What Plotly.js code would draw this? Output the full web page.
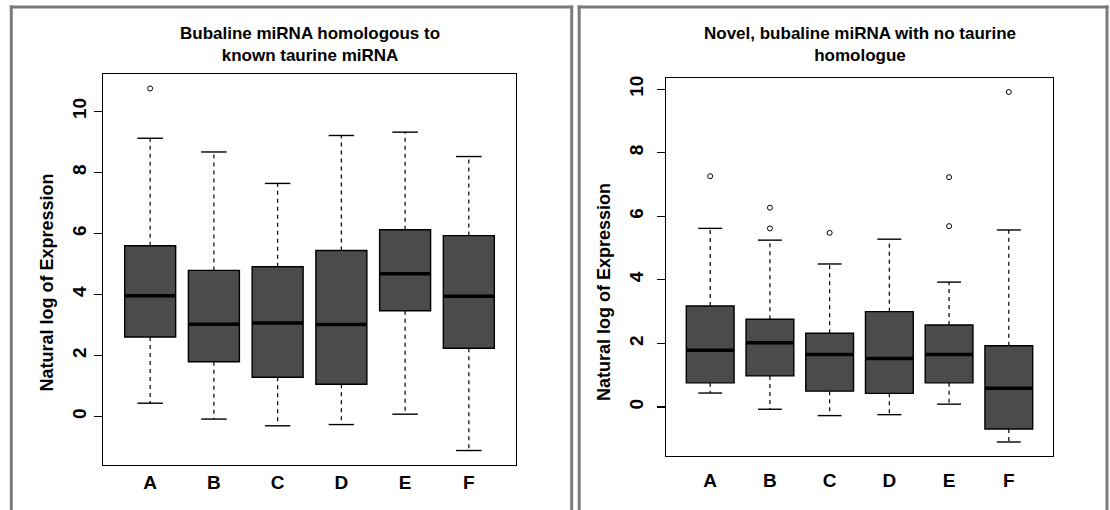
<!DOCTYPE html>
<html>
<head>
<meta charset="utf-8">
<script src="https://cdn.plot.ly/plotly-3.0.1.min.js"></script>
<style>
  html, body { margin: 0; padding: 0; background: #ffffff; }
  #chart { width: 1110px; height: 510px; }
</style>
</head>
<body>
<div id="chart"></div>
<script>
// ---------- DATA ----------
const categories = ['A', 'B', 'C', 'D', 'E', 'F'];

// Panel 1: Bubaline miRNA homologous to known taurine miRNA
const leftTitle = 'Bubaline miRNA homologous to<br>known taurine miRNA';
const leftUpper  = [9.12, 8.67, 7.64, 9.21, 9.32, 8.52];
const leftQ3     = [5.60, 4.79, 4.91, 5.44, 6.12, 5.93];
const leftMedian = [3.96, 3.03, 3.07, 3.02, 4.68, 3.94];
const leftQ1     = [2.61, 1.80, 1.29, 1.06, 3.47, 2.24];
const leftLower  = [0.44, -0.08, -0.30, -0.26, 0.08, -1.11];
const leftOutlierCat = ['A'];
const leftOutlierVal = [10.75];

// Panel 2: Novel, bubaline miRNA with no taurine homologue
const rightTitle = 'Novel, bubaline miRNA with no taurine<br>homologue';
const rightUpper  = [5.62, 5.25, 4.50, 5.28, 3.93, 5.57];
const rightQ3     = [3.18, 2.76, 2.32, 3.00, 2.58, 1.93];
const rightMedian = [1.79, 2.02, 1.65, 1.53, 1.65, 0.59];
const rightQ1     = [0.76, 0.98, 0.50, 0.43, 0.76, -0.69];
const rightLower  = [0.44, -0.07, -0.27, -0.24, 0.09, -1.10];
const rightOutlierCat = ['A', 'B', 'B', 'C', 'E', 'E', 'F'];
const rightOutlierVal = [7.26, 6.27, 5.62, 5.48, 7.23, 5.69, 9.91];

const yTicks = [0, 2, 4, 6, 8, 10];
const yAxisTitle = 'Natural log of Expression';

// ---------- STYLE ----------
const W = 1110, H = 510;
const FONT = 'Liberation Sans, Arial, sans-serif';
const boxFill = '#4b4b4b';
const boxWidth = 0.8;
const capHalf = 0.2;

function px(x) { return x / W; }
function py(y) { return 1 - y / H; }

function panelTraces(xa, ya, upper, q3, med, q1, lower, outCat, outVal) {
  const pos = categories.map((c, i) => i + 1);
  const traces = [];
  traces.push({
    type: 'box', xaxis: xa, yaxis: ya,
    x: pos, q1: q1, median: med, q3: q3,
    lowerfence: q1, upperfence: q3,
    width: boxWidth, whiskerwidth: 0,
    fillcolor: boxFill,
    line: { color: '#000000', width: 1.4 },
    boxpoints: false, hoverinfo: 'skip', showlegend: false
  });
  // dashed whiskers
  const wx = [], wy = [];
  pos.forEach((p, i) => {
    wx.push(p, p, null, p, p, null);
    wy.push(q3[i], upper[i], null, q1[i], lower[i], null);
  });
  traces.push({
    type: 'scatter', mode: 'lines', xaxis: xa, yaxis: ya,
    x: wx, y: wy, line: { color: '#000000', width: 1.2, dash: '4px,4px' },
    hoverinfo: 'skip', showlegend: false
  });
  // staples
  const sx = [], sy = [];
  pos.forEach((p, i) => {
    sx.push(p - capHalf, p + capHalf, null, p - capHalf, p + capHalf, null);
    sy.push(upper[i], upper[i], null, lower[i], lower[i], null);
  });
  traces.push({
    type: 'scatter', mode: 'lines', xaxis: xa, yaxis: ya,
    x: sx, y: sy, line: { color: '#000000', width: 1.4 },
    hoverinfo: 'skip', showlegend: false
  });
  // medians
  const mx = [], my = [];
  pos.forEach((p, i) => {
    mx.push(p - boxWidth / 2, p + boxWidth / 2, null);
    my.push(med[i], med[i], null);
  });
  traces.push({
    type: 'scatter', mode: 'lines', xaxis: xa, yaxis: ya,
    x: mx, y: my, line: { color: '#000000', width: 3.5 },
    hoverinfo: 'skip', showlegend: false
  });
  // outliers
  traces.push({
    type: 'scatter', mode: 'markers', xaxis: xa, yaxis: ya,
    x: outCat.map(c => categories.indexOf(c) + 1), y: outVal,
    marker: { symbol: 'circle-open', size: 5, color: '#000000', line: { width: 1 } },
    hoverinfo: 'skip', showlegend: false
  });
  return traces;
}

function rRange(arrs) {
  const all = [].concat(...arrs);
  const mn = Math.min(...all), mx = Math.max(...all);
  const e = 0.04 * (mx - mn);
  return [mn - e, mx + e];
}

const data = [].concat(
  panelTraces('x', 'y', leftUpper, leftQ3, leftMedian, leftQ1, leftLower, leftOutlierCat, leftOutlierVal),
  panelTraces('x2', 'y2', rightUpper, rightQ3, rightMedian, rightQ1, rightLower, rightOutlierCat, rightOutlierVal)
);

function xAxis(domain, anchor, standoff) {
  return {
    domain: domain, anchor: anchor,
    range: [0.5 - 0.24, categories.length + 0.5 + 0.24],
    tickvals: categories.map((c, i) => i + 1), ticktext: categories,
    ticks: '', showgrid: false, zeroline: false,
    showline: true, mirror: true, linecolor: '#000000', linewidth: 1.4,
    tickfont: { family: FONT, size: 19, color: '#000000', weight: 'bold' },
    ticklabelstandoff: standoff,
    fixedrange: true
  };
}
function yAxis(domain, anchor, range, standoff) {
  return {
    domain: domain, anchor: anchor, range: range,
    tickvals: yTicks, ticktext: yTicks.map(String),
    ticks: 'outside', ticklen: 8, tickwidth: 1.2, tickcolor: '#000000',
    tickangle: -90,
    showgrid: false, zeroline: false,
    showline: true, mirror: true, linecolor: '#000000', linewidth: 1.4,
    tickfont: { family: FONT, size: 19, color: '#000000', weight: 'bold' },
    ticklabelstandoff: standoff,
    fixedrange: true
  };
}

const frame = { color: '#7a7a7a', width: 3 };
const shapes = [
  { type: 'line', xref: 'paper', yref: 'paper', x0: px(11.3), x1: px(11.3), y0: py(5.5), y1: py(512), line: frame },
  { type: 'line', xref: 'paper', yref: 'paper', x0: px(9.8), x1: px(573.2), y0: py(7), y1: py(7), line: frame },
  { type: 'line', xref: 'paper', yref: 'paper', x0: px(571.7), x1: px(571.7), y0: py(5.5), y1: py(512), line: frame },
  { type: 'line', xref: 'paper', yref: 'paper', x0: px(579.2), x1: px(579.2), y0: py(5.5), y1: py(512), line: frame },
  { type: 'line', xref: 'paper', yref: 'paper', x0: px(577.7), x1: px(1108.5), y0: py(7), y1: py(7), line: frame },
  { type: 'line', xref: 'paper', yref: 'paper', x0: px(1107), x1: px(1107), y0: py(5.5), y1: py(512), line: frame }
];

const titleFont = { family: FONT, size: 17, color: '#000000', weight: 'bold' };
const labelFont = { family: FONT, size: 18, color: '#000000', weight: 'bold' };
const annotations = [
  { text: leftTitle, xref: 'paper', yref: 'paper', x: px(310), y: py(44), xanchor: 'center', yanchor: 'middle',
    showarrow: false, font: titleFont },
  { text: rightTitle, xref: 'paper', yref: 'paper', x: px(860), y: py(44), xanchor: 'center', yanchor: 'middle',
    showarrow: false, font: titleFont },
  { text: yAxisTitle, xref: 'paper', yref: 'paper', x: px(46.5), y: py(283), xanchor: 'center', yanchor: 'middle',
    textangle: -90, showarrow: false, font: labelFont },
  { text: yAxisTitle, xref: 'paper', yref: 'paper', x: px(604), y: py(292), xanchor: 'center', yanchor: 'middle',
    textangle: -90, showarrow: false, font: labelFont }
];

const layout = {
  width: W, height: H,
  margin: { l: 0, r: 0, t: 0, b: 0 },
  paper_bgcolor: '#ffffff', plot_bgcolor: '#ffffff',
  showlegend: false,
  font: { family: FONT, color: '#000000' },
  xaxis: xAxis([px(103), px(516)], 'y', 0),
  yaxis: yAxis([py(465), py(74)], 'x', rRange([leftUpper, leftLower, leftOutlierVal]), 0),
  xaxis2: xAxis([px(666), px(1053)], 'y2', 7),
  yaxis2: yAxis([py(456), py(78)], 'x2', rRange([rightUpper, rightLower, rightOutlierVal]), 6),
  shapes: shapes,
  annotations: annotations
};

Plotly.newPlot('chart', data, layout, { staticPlot: true, displayModeBar: false });
</script>
</body>
</html>
